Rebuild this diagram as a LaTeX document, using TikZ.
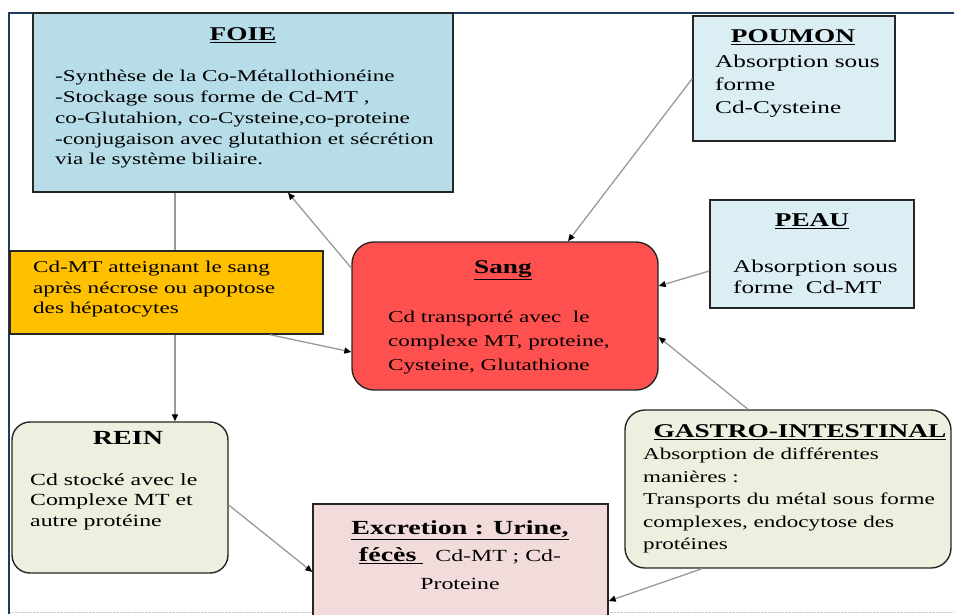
\documentclass[tikz,border=0pt]{standalone}
\usepackage{fontspec}
\setmainfont{Liberation Serif}[FakeStretch=1.4]
\usetikzlibrary{arrows.meta}
\definecolor{foieblue}{HTML}{B7DDE8}
\definecolor{paleblue}{HTML}{DAEEF3}
\definecolor{sangred}{HTML}{FF5050}
\definecolor{hepaorange}{HTML}{FFC000}
\definecolor{paleolive}{HTML}{EBF1DE}
\definecolor{palerose}{HTML}{F2DCDB}
\definecolor{framenavy}{HTML}{1F3A5F}

\begin{document}
\begin{tikzpicture}[x=1pt, y=-1pt,
        box/.style={draw=black!85, line width=1.4pt, inner sep=0pt},
        titre/.style={font=\fontsize{19.5}{22}\selectfont\bfseries, inner sep=0pt},
        corps/.style={font=\fontsize{16.5}{20.5}\selectfont, align=left, anchor=north west, inner sep=0pt},
        fleche/.style={draw=black!40, line width=1.3pt, -{Triangle[black, length=7pt, width=6pt]}}]
            \useasboundingbox (0,0) rectangle (954,614);
            % cadre de la page
            \draw [black!20, densely dotted] (9,612) -- (954,612);
            \draw [framenavy, line width=2pt] (9,614) -- (9,13) -- (954,13);

            % organes
            \node [box, fill=foieblue, minimum width=420pt, minimum height=179pt] (foie) at (243,102.5) {};
            \node [box, fill=paleolive, rounded corners=18pt, minimum width=216pt, minimum height=151pt] (rein) at (120,497.5) {};
            \draw [fleche] ([xshift=-68pt]foie.south) -- ([xshift=55pt]rein.north);
            \node [box, fill=hepaorange, minimum width=313pt, minimum height=83pt] (apoptose) at (166.5,292.5) {};
            \node [box, fill=paleblue, minimum width=202pt, minimum height=125pt] (poumon) at (794,78.5) {};
            \node [box, fill=paleblue, minimum width=204pt, minimum height=108pt] (peau) at (812,254) {};
            \node [box, fill=sangred, rounded corners=22pt, minimum width=306pt, minimum height=148pt] (sang) at (505,316) {};
            \node [box, fill=paleolive, rounded corners=20pt, minimum width=326pt, minimum height=158pt] (gastro) at (788,489) {};
            \node [box, fill=palerose, minimum width=295pt, minimum height=116pt] (excretion) at (460.5,562) {};

            % textes
            \node [titre] (foietitre) at (243,35) {\underline{FOIE}};
            \node [corps, font=\fontsize{16.5}{20.8}\selectfont] (foietexte) at (55,70)
                {-Synthèse de la Co-Métallothionéine\\-Stockage sous forme de Cd-MT ,\\co-Glutahion, co-Cysteine,co-proteine\\-conjugaison avec glutathion et sécrétion\\via le système biliaire.};
            \node [titre] (poumontitre) at (793,37) {\underline{POUMON}};
            \node [corps, font=\fontsize{18}{23}\selectfont] (poumontexte) at (715,55)
                {Absorption sous\\forme\\Cd-Cysteine};
            \node [titre] (peautitre) at (812,221) {\underline{PEAU}};
            \node [corps, font=\fontsize{18}{21}\selectfont] (peautexte) at (733,260)
                {Absorption sous\\forme~~Cd-MT};
            \node [titre] (sangtitre) at (503,270) {\underline{Sang}};
            \node [corps, font=\fontsize{16.5}{24}\selectfont] (sangtexte) at (388,311)
                {Cd transporté avec~ le\\complexe MT, proteine,\\Cysteine, Glutathione};
            \node [corps] (apoptosetexte) at (33,261)
                {Cd-MT atteignant le sang\\après nécrose ou apoptose\\des hépatocytes};
            \node [titre, font=\fontsize{20}{22}\selectfont\bfseries] (reintitre) at (128,438) {REIN};
            \node [corps, font=\fontsize{17}{20.5}\selectfont] (reintexte) at (30,473)
                {Cd stocké avec le\\Complexe MT et\\autre protéine};
            \node [titre] (gastrotitre) at (800,432) {\underline{GASTRO-INTESTINAL}};
            \node [corps, font=\fontsize{16.5}{22.5}\selectfont] (gastrotexte) at (643,448)
                {Absorption de différentes\\manières :\\Transports du métal sous forme\\complexes, endocytose des\\protéines};
            \node [align=center, inner sep=0pt, font=\fontsize{17}{27.5}\selectfont] (excretiontexte) at (460,555)
                {{\fontsize{20}{22}\selectfont\bfseries\underline{Excretion : Urine,}}\\
                 {\fontsize{20}{22}\selectfont\bfseries\underline{fécès~}}~~Cd-MT ; Cd-\\Proteine};

            % echanges
            \draw [fleche] (poumon.west) -- ([xshift=63pt]sang.north);
            \draw [fleche] ([yshift=-17pt]peau.west) -- ([yshift=30pt]sang.east);
            \draw [fleche] ([xshift=-40pt]gastro.north) -- ([yshift=-21pt]sang.east);
            \draw [fleche] ([yshift=48pt]sang.west) -- ([xshift=45pt]foie.south);
            \draw [fleche] ([xshift=103.5pt]apoptose.south) -- ([yshift=-36pt]sang.west);
            \draw [fleche] ([yshift=-7.5pt]rein.east) -- ([yshift=-10pt]excretion.west);
            \draw [fleche] ([xshift=-86pt]gastro.south) -- ([yshift=-39pt]excretion.east);
        \end{tikzpicture}
\end{document}
